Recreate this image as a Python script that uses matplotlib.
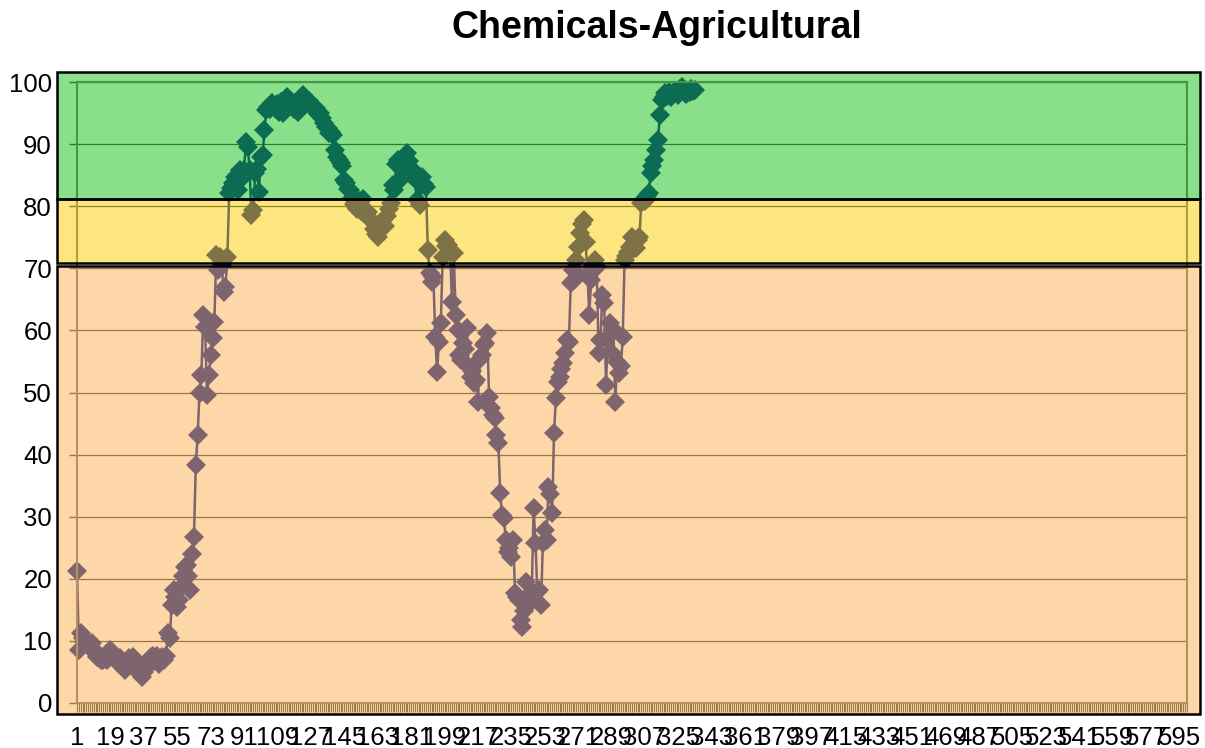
import matplotlib.pyplot as plt
import matplotlib.colors as mcolors
import matplotlib.transforms as mtransforms
from matplotlib.patches import Rectangle

plt.rcParams['font.family'] = ['Liberation Sans', 'DejaVu Sans']

# --- data ---
TITLE = "Chemicals-Agricultural"
N_CATEGORIES = 599
LABEL_STEP = 18
Y_TICKS = [0, 10, 20, 30, 40, 50, 60, 70, 80, 90, 100]

scores = [
    21.3, 8.5, 11.2, 10.5, 9.8, 10.2, 9.4, 8.8, 9.6, 8.6,
    8.0, 7.4, 7.8, 7.0, 6.9, 7.3, 7.0, 8.0, 8.6, 8.2,
    7.6, 7.0, 6.4, 7.2, 6.2, 5.8, 5.3, 6.6, 7.2, 6.8,
    7.4, 6.6, 5.6, 5.2, 4.6, 4.2, 5.0, 5.6, 6.2, 7.0,
    7.4, 7.6, 6.8, 7.6, 6.2, 6.8, 7.4, 7.0, 7.6, 11.3,
    10.5, 15.8, 18.2, 17.0, 15.5, 16.6, 18.6, 20.4, 21.9, 22.2,
    20.5, 18.2, 24.0, 26.8, 38.3, 43.2, 50.0, 52.8, 62.5, 60.5,
    49.6, 52.8, 56.0, 58.7, 61.4, 72.1, 69.7, 71.8, 70.5, 66.2,
    67.0, 71.8, 82.1, 83.0, 83.7, 84.7, 84.0, 82.6, 85.8, 84.6,
    85.8, 90.3, 89.6, 85.8, 78.6, 79.4, 85.3, 86.0, 82.3, 87.9,
    88.2, 92.3, 95.5, 96.0, 95.6, 96.6, 96.0, 95.6, 96.4, 95.2,
    96.8, 95.0, 96.2, 97.6, 97.0, 96.3, 96.8, 95.6, 96.2, 95.2,
    96.6, 97.2, 97.9, 97.4, 96.8, 97.0, 96.3, 96.0, 95.5, 95.8,
    94.8, 95.0, 94.2, 93.4, 92.8, 92.6, 91.8, 92.0, 91.4, 89.0,
    88.0, 87.4, 87.0, 86.4, 84.2, 83.7, 82.8, 82.6, 81.4, 80.4,
    80.0, 79.6, 80.8, 79.2, 81.2, 78.8, 78.4, 79.0, 78.0, 77.6,
    76.4, 75.6, 75.0, 76.2, 77.0, 77.8, 76.8, 78.4, 79.6, 80.5,
    83.4, 82.6, 86.8, 87.4, 84.2, 86.2, 87.0, 86.0, 88.5, 87.2,
    85.0, 85.8, 84.4, 81.0, 84.6, 80.2, 84.7, 83.6, 83.1, 73.0,
    69.2, 67.8, 68.6, 58.9, 53.3, 58.2, 61.2, 71.8, 74.6, 73.6,
    73.8, 72.8, 64.6, 72.5, 62.5, 60.0, 56.0, 55.2, 58.0, 57.0,
    60.4, 54.1, 52.5, 53.4, 51.6, 52.0, 48.5, 55.4, 56.0, 57.6,
    58.0, 59.6, 49.3, 47.5, 46.4, 45.9, 43.2, 41.9, 33.8, 30.3,
    29.8, 26.2, 24.3, 25.0, 23.5, 26.2, 17.7, 17.0, 16.6, 13.4,
    12.2, 14.8, 19.5, 17.2, 16.1, 17.8, 31.4, 25.8, 17.8, 18.2,
    15.8, 25.8, 27.9, 26.2, 34.8, 33.6, 30.6, 43.5, 49.1, 51.7,
    52.5, 53.8, 54.7, 56.4, 58.5, 58.2, 67.6, 69.7, 68.1, 71.3,
    73.4, 75.7, 77.2, 77.8, 74.2, 68.9, 62.5, 68.1, 70.6, 71.3,
    70.2, 56.4, 58.5, 65.7, 64.4, 51.2, 58.9, 61.2, 56.4, 60.2,
    48.5, 54.9, 53.1, 54.2, 58.9, 71.3, 72.0, 72.6, 73.4, 75.0,
    74.0, 73.2, 74.6, 75.0, 80.5, 81.0, 80.8, 81.6, 82.1, 85.3,
    86.4, 87.4, 89.0, 90.7, 94.7, 97.1, 97.6, 98.2, 97.8, 98.4,
    97.6, 98.0, 98.6, 98.2, 97.9, 98.8, 99.2, 98.4, 98.0, 98.6,
    98.4, 98.9, 98.5, 98.7,
]

# score bands (lower, upper) and their fill colours
band_ranges = [(81.2, 101.6), (70.8, 81.2), (-1.8, 70.3)]
band_colors = ['#17c117', '#fdcd01', '#fdb151']

# --- plot ---
fig = plt.figure(figsize=(12.05, 7.48), dpi=100)
ax = fig.add_axes([77 / 1205, 45 / 748, 1110 / 1205, 621 / 748])

x = list(range(1, len(scores) + 1))
ax.plot(x, scores, color='#00178f', linewidth=1.8, marker='D',
        markersize=10.5, markeredgewidth=0, zorder=2, clip_on=False)

ax.set_xlim(1, N_CATEGORIES)
ax.set_ylim(0, 100)

ax.set_yticks(Y_TICKS)
ax.grid(axis='y', color='#3a3a3a', linewidth=0.9)
ax.set_axisbelow(True)

cats = list(range(1, N_CATEGORIES + 1))
ax.set_xticks(cats)
ax.set_xticklabels([str(c) if (c - 1) % LABEL_STEP == 0 else '' for c in cats])

ax.tick_params(axis='x', length=6.5, width=0.8, color='#444444', pad=10,
               labelsize=18.5)
ax.tick_params(axis='y', length=6, width=1, color='#3a3a3a', pad=12,
               labelsize=18.5)
for s in ax.spines.values():
    s.set_color('#707070')
    s.set_linewidth(1.5)

# translucent bands laid over the plot area
trans = mtransforms.blended_transform_factory(ax.transAxes, ax.transData)
for (lo, hi), col in zip(band_ranges, band_colors):
    ax.add_patch(Rectangle((-0.018, lo), 1.0297, hi - lo, transform=trans,
                           facecolor=(*mcolors.to_rgb(col), 0.5),
                           edgecolor='none', clip_on=False, zorder=3))
    ax.add_patch(Rectangle((-0.018, lo), 1.0297, hi - lo, transform=trans,
                           fill=False, edgecolor='black', linewidth=1.8,
                           clip_on=False, zorder=4))

fig.text(657 / 1205, 1 - 28 / 748, TITLE, ha='center', va='center',
         fontsize=27, fontweight='bold')

fig.savefig('out.png', dpi=100)
